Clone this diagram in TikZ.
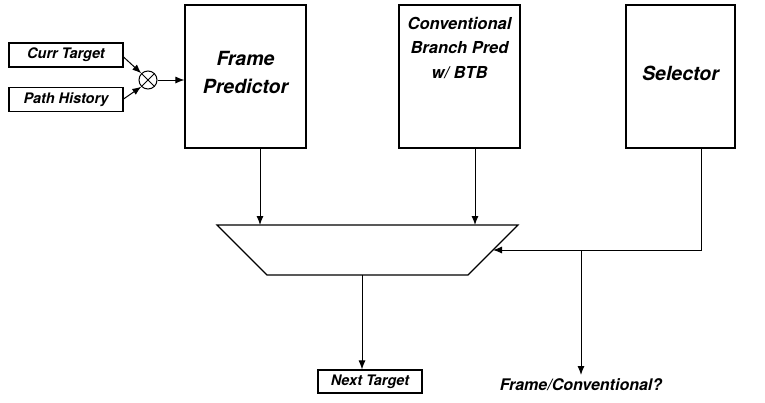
\documentclass[tikz,border=0pt]{standalone}
\usepackage{fontspec}
\setmainfont{TeX Gyre Heros}
\usetikzlibrary{arrows.meta}
\begin{document}
\begin{tikzpicture}[x=1pt,y=-1pt,
  line width=1pt,
  arr/.style={-{Latex[length=9pt,width=7pt]}},
  bigbox/.style={draw,line width=1.1pt,minimum width=121pt,minimum height=143pt,inner sep=0pt},
  smallbox/.style={draw,line width=1.1pt,minimum width=114pt,minimum height=24pt,inner sep=0pt,
    font=\fontsize{14.5}{16}\selectfont\bfseries\itshape},
  lbl/.style={font=\fontsize{19.5}{28}\selectfont\bfseries\itshape,align=center},
]
\useasboundingbox (0,0) rectangle (765,402);

% inputs and combining node
\node[smallbox] (curr) at (66,55) {Curr Target};
\node[smallbox] (path) at (66,99.5) {Path History};
\node[draw,circle,minimum size=18pt,inner sep=0pt,line width=1pt] (mix) at (148,80) {};
\draw (mix.north west) -- (mix.south east);
\draw (mix.north east) -- (mix.south west);

% predictor blocks
\node[bigbox] (frame) at (245.5,76.5) {};
\node[lbl] at ([yshift=4pt]frame.center) {Frame\\Predictor};
\node[bigbox] (conv) at (459.5,76.5) {};
\node[lbl,font=\fontsize{16.5}{24.5}\selectfont\bfseries\itshape] at ([yshift=29pt]conv.center) {Conventional\\Branch Pred\\w/ BTB};
\node[bigbox,minimum width=109pt] (sel) at (680.5,76.5) {};
\node[lbl] at ([yshift=3pt]sel.center) {Selector};

% multiplexer
\coordinate (mtl) at (217,225);
\coordinate (mtr) at (518,225);
\coordinate (mbr) at (468,275);
\coordinate (mbl) at (267,275);
\draw[line width=1.1pt] (mtl) -- (mtr) -- (mbr) -- (mbl) -- cycle;
\coordinate (muxin) at (493,250);
\coordinate (muxout) at (362,275);

% outputs
\node[smallbox,minimum width=104pt,minimum height=23pt] (next) at (370,381.5) {Next Target};
\node[font=\fontsize{16}{20}\selectfont\bfseries\itshape,anchor=north] (fc) at (581,375) {Frame/Conventional?};

% connectors
\draw[arr] (curr.east |- 0,57) -- (mix.north west);
\draw[arr] (path.east |- 0,99) -- (mix.south west);
\draw[arr] (mix.east) -- (frame.west |- mix.east);
\draw[arr] (frame.south -| 260,0) -- (260,225);
\draw[arr] (conv.south -| 475,0) -- (475,225);
\coordinate (selturn) at (701,250);
\coordinate (split) at (581,250);
\draw[arr] (sel.south -| selturn) -- (selturn) -- (muxin);
\draw[arr] (split) -- (fc.north);
\draw[arr] (muxout) -- (next.north -| muxout);
\end{tikzpicture}
\end{document}
